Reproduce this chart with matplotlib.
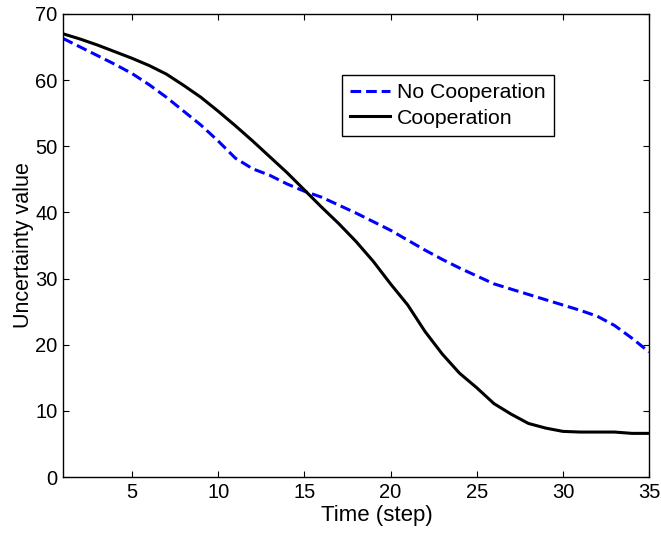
import matplotlib
matplotlib.use("Agg")
import matplotlib.pyplot as plt

plt.rcParams['font.family'] = ['Liberation Sans', 'DejaVu Sans']

steps = list(range(1, 36))
no_coop = [66.3, 65.0, 63.7, 62.4, 61.0, 59.3, 57.4, 55.3, 53.2, 50.8,
           48.2, 46.6, 45.6, 44.3, 43.2, 42.3, 41.1, 39.9, 38.6, 37.3,
           35.8, 34.3, 32.9, 31.6, 30.4, 29.2, 28.4, 27.6, 26.8, 26.0,
           25.2, 24.3, 22.9, 21.0, 18.9]
coop = [67.0, 66.2, 65.3, 64.3, 63.3, 62.2, 60.9, 59.2, 57.4, 55.3,
        53.1, 50.8, 48.4, 46.0, 43.4, 40.8, 38.3, 35.6, 32.6, 29.2,
        26.0, 22.0, 18.6, 15.7, 13.5, 11.1, 9.5, 8.1, 7.4, 6.9,
        6.8, 6.8, 6.8, 6.6, 6.6]
xticks = [5, 10, 15, 20, 25, 30, 35]
yticks = [0, 10, 20, 30, 40, 50, 60, 70]

fig = plt.figure(figsize=(6.61, 5.36), dpi=100)
ax = fig.add_axes([0.0953, 0.110, 0.8867, 0.864])

ax.plot(steps, no_coop, color='#0000ff', lw=2.2, linestyle=(0, (3.5, 1.6)), label='No Cooperation')
ax.plot(steps, coop, color='black', lw=2.2, label='Cooperation')

ax.set_xlim(1, 35)
ax.set_ylim(0, 70)
ax.set_xticks(xticks)
ax.set_yticks(yticks)
ax.tick_params(direction='in', top=True, right=True, length=4, width=0.8, labelsize=14.5, pad=4)
for s in ax.spines.values():
    s.set_linewidth(1.0)

ax.set_xlabel('Time (step)', fontsize=16)
ax.xaxis.set_label_coords(0.536, -0.060, transform=ax.transAxes)
ax.xaxis.label.set_verticalalignment('top')
ax.set_ylabel('Uncertainty value', fontsize=15.5, labelpad=1)

leg = ax.legend(loc='upper left', bbox_to_anchor=(0.476, 0.868), fontsize=15.3,
                frameon=True, fancybox=False, edgecolor='black', framealpha=1,
                handlelength=1.9, handletextpad=0.3, borderpad=0.38, labelspacing=0.3,
                borderaxespad=0)
leg.get_frame().set_linewidth(1.0)

fig.savefig('out.png', dpi=100)
